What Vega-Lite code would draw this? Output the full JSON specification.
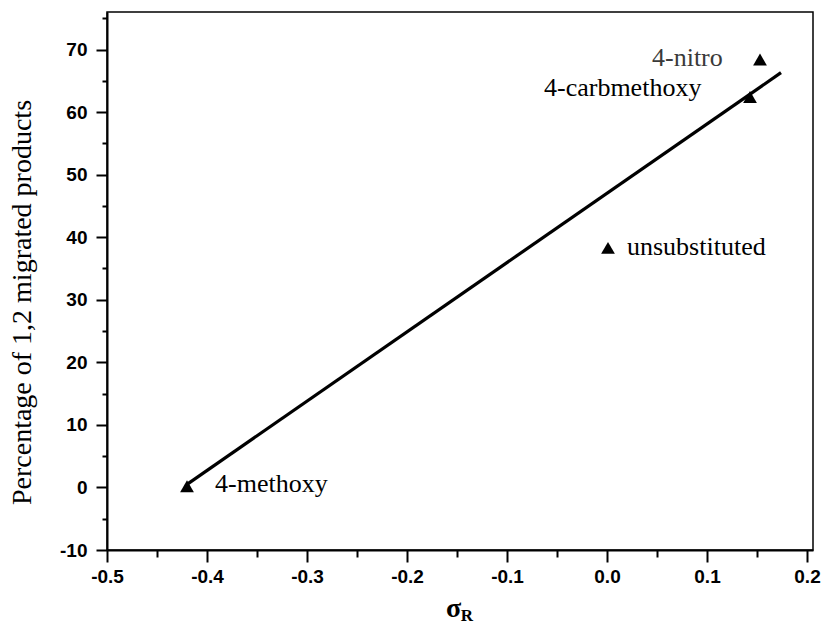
{
  "$schema": "https://vega.github.io/schema/vega-lite/v6.json",
  "width": 706,
  "height": 538,
  "autosize": "none",
  "padding": {"left": 107, "top": 12, "right": 12, "bottom": 76},
  "background": "white",
  "config": {"view": {"stroke": "black", "strokeWidth": 1.5}},
  "datasets": {
    "fit": [
      {"x": -0.42, "y": 0.5},
      {"x": 0.174, "y": 66.3}
    ],
    "pts": [
      {"name": "4-methoxy", "x": -0.42, "y": 0.2},
      {"name": "unsubstituted", "x": 0.001, "y": 38.3},
      {"name": "4-carbmethoxy", "x": 0.143, "y": 62.4},
      {"name": "4-nitro", "x": 0.153, "y": 68.4}
    ],
    "labels": [
      {"text": "4-methoxy", "x": -0.392, "y": -0.8, "c": "k"},
      {"text": "unsubstituted", "x": 0.02, "y": 37.2, "c": "k"},
      {"text": "4-carbmethoxy", "x": -0.063, "y": 62.5, "c": "k"},
      {"text": "4-nitro", "x": 0.045, "y": 67.3, "c": "g"}
    ],
    "sub": [
      {"text": "R", "x": -0.14, "y": -21.4}
    ]
  },
  "encoding": {
    "x": {
      "field": "x",
      "type": "quantitative",
      "scale": {"domain": [-0.5, 0.206], "nice": false, "zero": false},
      "axis": {
        "title": "σ",
        "titleFont": "Liberation Serif",
        "titleFontSize": 28,
        "titleFontWeight": "bold",
        "titleColor": "black",
        "titleX": 346,
        "titleY": 66,
        "titleBaseline": "alphabetic",
        "titleAlign": "center",
        "values": [-0.5, -0.45, -0.4, -0.35, -0.3, -0.25, -0.2, -0.15, -0.1, -0.05, 0, 0.05, 0.1, 0.15, 0.2],
        "labelExpr": "abs(round(datum.value*20)) % 2 == 0 ? replace(format(datum.value, '.1f'), '−', '-') : ''",
        "labelFont": "Liberation Sans",
        "labelFontWeight": "bold",
        "labelFontSize": 19,
        "labelColor": "black",
        "labelPadding": 5,
        "labelFlush": false,
        "labelOverlap": false,
        "tickSize": {"condition": {"test": "abs(round(datum.value*20)) % 2 == 1", "value": 7}, "value": 12},
        "tickWidth": 2,
        "tickColor": "black",
        "domainColor": "black",
        "domainWidth": 2,
        "grid": false
      }
    },
    "y": {
      "field": "y",
      "type": "quantitative",
      "scale": {"domain": [-10, 76], "nice": false, "zero": false},
      "axis": {
        "title": "Percentage of 1,2 migrated products",
        "titleFont": "Liberation Serif",
        "titleFontSize": 28,
        "titleFontWeight": "normal",
        "titleColor": "black",
        "titleAngle": -90,
        "titleX": -85,
        "titleY": 290,
        "titleBaseline": "middle",
        "titleAlign": "center",
        "values": [-10, -5, 0, 5, 10, 15, 20, 25, 30, 35, 40, 45, 50, 55, 60, 65, 70, 75],
        "labelExpr": "abs(round(datum.value)) % 10 == 0 ? '' + datum.value : ''",
        "labelFont": "Liberation Sans",
        "labelFontWeight": "bold",
        "labelFontSize": 19,
        "labelColor": "black",
        "labelPadding": 9,
        "labelFlush": false,
        "labelOverlap": false,
        "tickSize": {"condition": {"test": "abs(round(datum.value)) % 10 == 5", "value": 5}, "value": 11},
        "tickWidth": 2,
        "tickColor": "black",
        "domainColor": "black",
        "domainWidth": 2,
        "grid": false
      }
    }
  },
  "layer": [
    {
      "data": {"name": "fit"},
      "mark": {"type": "line", "color": "black", "strokeWidth": 3.2},
      "encoding": {}
    },
    {
      "data": {"name": "pts"},
      "mark": {"type": "point", "shape": "triangle-up", "filled": true, "color": "black", "opacity": 1, "size": 190},
      "encoding": {}
    },
    {
      "data": {"name": "labels"},
      "mark": {"type": "text", "font": "Liberation Serif", "fontSize": 26, "align": "left", "baseline": "alphabetic"},
      "encoding": {
        "text": {"field": "text"},
        "color": {"field": "c", "type": "nominal", "scale": {"domain": ["k", "g"], "range": ["#000000", "#3a3a3a"]}, "legend": null}
      }
    },
    {
      "data": {"name": "sub"},
      "mark": {"type": "text", "font": "Liberation Serif", "fontSize": 17, "fontWeight": "bold", "align": "center", "baseline": "alphabetic", "color": "black"},
      "encoding": {"text": {"field": "text"}}
    }
  ]
}
